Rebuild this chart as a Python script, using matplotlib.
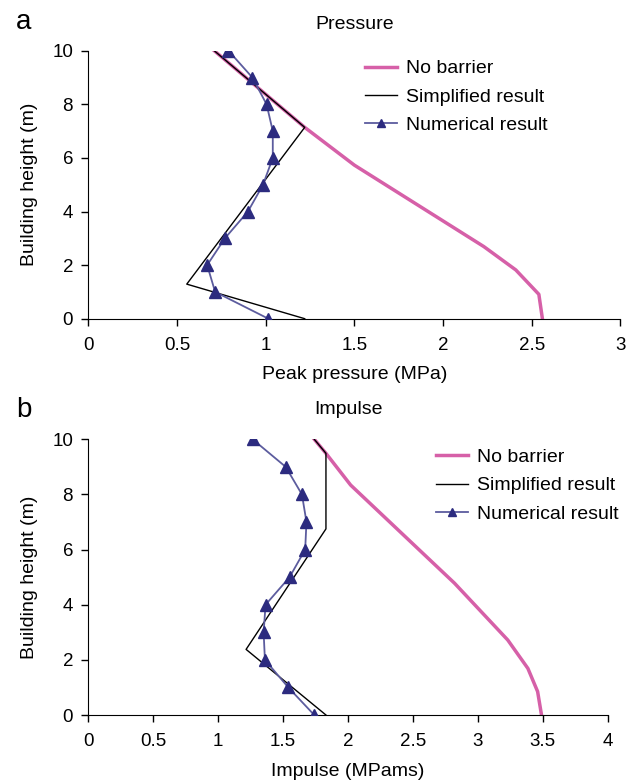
import matplotlib.pyplot as plt

plt.rcParams['font.family'] = ['Liberation Sans', 'DejaVu Sans']

# heights (m)
num_height = [10, 9, 8, 7, 6, 5, 4, 3, 2, 1, 0]

# pressure panel
p_nobar_height = [10, 7.14, 5.73, 2.69, 1.82, 0.91, 0]
p_nobar = [0.71, 1.22, 1.50, 2.23, 2.41, 2.54, 2.56]
p_simp_height = [10, 7.14, 1.29, 0]
p_simp = [0.71, 1.22, 0.555, 1.22]
p_num = [0.79, 0.925, 1.005, 1.04, 1.04, 0.985, 0.90, 0.77, 0.67, 0.715, 1.015]

# impulse panel
i_nobar_height = [10, 9.49, 8.34, 4.78, 2.72, 1.69, 0.85, 0]
i_nobar = [1.74, 1.83, 2.02, 2.82, 3.23, 3.385, 3.46, 3.49]
i_simp_height = [10, 9.49, 6.75, 2.38, 0]
i_simp = [1.74, 1.83, 1.83, 1.215, 1.83]
i_num = [1.265, 1.52, 1.645, 1.68, 1.67, 1.55, 1.365, 1.35, 1.36, 1.54, 1.74]

pink = '#d660a8'
navy = '#2c2b7f'
navy_line = '#5c5c9e'
fs = 14

fig = plt.figure(figsize=(6.29, 7.84), dpi=100)
ax1 = fig.add_axes([0.1404, 0.5935, 0.846, 0.3418])
ax2 = fig.add_axes([0.1404, 0.088, 0.8258, 0.3517])


def style(ax, xlim, xticks, xticklabels, xlabel, title, legx, tpad):
    ax.set_xlim(*xlim)
    ax.set_ylim(0, 10)
    ax.set_xticks(xticks)
    ax.set_xticklabels(xticklabels)
    ax.set_yticks([0, 2, 4, 6, 8, 10])
    ax.spines['top'].set_visible(False)
    ax.spines['right'].set_visible(False)
    ax.tick_params(labelsize=13.5, length=5, width=1, direction='out', pad=6)
    ax.tick_params(axis='x', pad=8)
    ax.set_xlabel(xlabel, fontsize=fs, labelpad=9)
    ax.set_ylabel('Building height (m)', fontsize=fs, labelpad=10)
    ax.set_title(title, fontsize=fs, pad=tpad)
    ax.legend(loc='upper left', bbox_to_anchor=(legx, 0.995), frameon=False,
              fontsize=fs, handlelength=1.65, labelspacing=0.55,
              handletextpad=0.45, borderaxespad=0, markerscale=0.75)


ax1.plot(p_nobar, p_nobar_height, color=pink, lw=2.5, label='No barrier', zorder=2)
ax1.plot(p_simp, p_simp_height, color='black', lw=1, label='Simplified result', zorder=3)
ax1.plot(p_num, num_height, color=navy_line, lw=1.3, marker='^', ms=8,
         mfc=navy, mec=navy, label='Numerical result', zorder=4)
style(ax1, (0, 3), [0, 0.5, 1, 1.5, 2, 2.5, 3], ['0', '0.5', '1', '1.5', '2', '2.5', '3'],
      'Peak pressure (MPa)', 'Pressure', 0.505, 16)

ax2.plot(i_nobar, i_nobar_height, color=pink, lw=2.5, label='No barrier', zorder=2)
ax2.plot(i_simp, i_simp_height, color='black', lw=1, label='Simplified result', zorder=3)
ax2.plot(i_num, num_height, color=navy_line, lw=1.3, marker='^', ms=8,
         mfc=navy, mec=navy, label='Numerical result', zorder=4)
style(ax2, (0, 4), [0, 0.5, 1, 1.5, 2, 2.5, 3, 3.5, 4],
      ['0', '0.5', '1', '1.5', '2', '2.5', '3', '3.5', '4'],
      'Impulse (MPams)', 'Impulse', 0.655, 18)

fig.text(16 / 629, 1 - 22 / 784, 'a', fontsize=20, va='center', ha='left')
fig.text(16 / 629, 1 - 410 / 784, 'b', fontsize=20, va='center', ha='left')

fig.savefig('out.png', dpi=100)
